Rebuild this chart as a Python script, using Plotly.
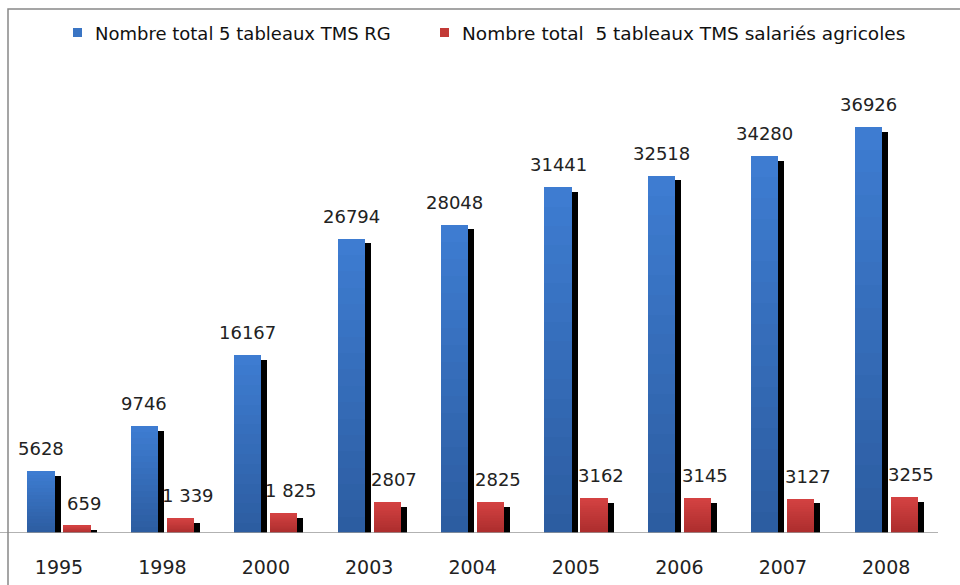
import plotly.graph_objects as go

years = ["1995", "1998", "2000", "2003", "2004", "2005", "2006", "2007", "2008"]
rg_values = [5628, 9746, 16167, 26794, 28048, 31441, 32518, 34280, 36926]
agri_values = [659, 1339, 1825, 2807, 2825, 3162, 3145, 3127, 3255]
rg_labels = ["5628", "9746", "16167", "26794", "28048", "31441", "32518", "34280", "36926"]
agri_labels = ["659", "1 339", "1 825", "2807", "2825", "3162", "3145", "3127", "3255"]
series_names = ["Nombre total 5 tableaux TMS RG",
                "Nombre total  5 tableaux TMS salariés agricoles"]

FONT = "DejaVu Sans"
idx = list(range(len(years)))
BW = 0.262
OFF = 0.174
SH_DX = 0.058
SH_DY = 420
N = 18

PT, PB, PR = 60, 52, 22
PH = 585 - PT - PB
PW = 960 - PR

def px_x(p):
    return p / PW

def px_y(p):
    return (PT + PH - p) / PH

def lerp(c1, c2, t):
    return "rgb(%d,%d,%d)" % tuple(round(a + (b - a) * t) for a, b in zip(c1, c2))

fig = go.Figure()

series = [
    (rg_values, rg_labels, -OFF, (62, 125, 210), (44, 92, 160), series_names[0], "#3a75c4", 73, 18, 0.0),
    (agri_values, agri_labels, OFF, (212, 66, 66), (170, 44, 44), series_names[1], "#c23a36", 440, 18.5, 0.07),
]

for vals, labels, off, ctop, cbot, name, lcol, lx, lfs, tdx in series:
    xs = [i + off for i in idx]
    fig.add_trace(go.Bar(x=[x + SH_DX for x in xs], y=[max(v - SH_DY, 0) for v in vals],
                         width=BW, marker=dict(color="black", line=dict(width=0)),
                         showlegend=False, hoverinfo="skip"))
    for j in range(N):
        t = 1 - (j + 0.5) / N
        fig.add_trace(go.Bar(x=xs, y=[v / N for v in vals], base=[v * j / N for v in vals],
                             width=BW, marker=dict(color=lerp(ctop, cbot, t), line=dict(width=0)),
                             showlegend=False, hoverinfo="skip", name=name))
    for x, v, lab in zip(xs, vals, labels):
        fig.add_annotation(x=x + tdx, y=v, text=lab, showarrow=False, yanchor="bottom",
                           yshift=10, font=dict(family=FONT, size=18, color="#222"))
    fig.add_shape(type="rect", xref="paper", yref="paper",
                  x0=px_x(lx), x1=px_x(lx + 9), y0=px_y(37), y1=px_y(28),
                  fillcolor=lcol, line=dict(width=0))
    fig.add_annotation(xref="paper", yref="paper", x=px_x(lx + 20), y=px_y(33),
                       xanchor="left", yanchor="middle", text=name, showarrow=False,
                       font=dict(family=FONT, size=lfs, color="#111"))

fig.update_layout(
    barmode="overlay",
    width=960, height=585,
    margin=dict(l=0, r=PR, t=PT, b=PB, autoexpand=False),
    paper_bgcolor="white", plot_bgcolor="white",
    font=dict(family=FONT, color="#222"),
    showlegend=False,
    xaxis=dict(range=[-0.5706, 8.501], tickmode="array", tickvals=idx, ticktext=years,
               showgrid=False, zeroline=False, showline=False, ticks="",
               tickfont=dict(family=FONT, size=19, color="#222"), ticklabelstandoff=21),
    yaxis=dict(range=[0, 43043], visible=False, showgrid=False),
    bargap=0,
)

fig.add_shape(type="line", xref="paper", yref="y", x0=0, x1=1, y0=0, y1=0,
              line=dict(color="#999", width=1.5))
top = px_y(9)
fig.add_shape(type="path", xref="paper", yref="paper",
              path="M %f,%f L %f,%f L %f,%f" % (px_x(8), px_y(585), px_x(8), top, px_x(960), top),
              line=dict(color="#888", width=1.5))

fig.write_html("out.html", config={"displayModeBar": False},
               post_script="document.body.style.margin='0';document.body.style.overflow='hidden';")
